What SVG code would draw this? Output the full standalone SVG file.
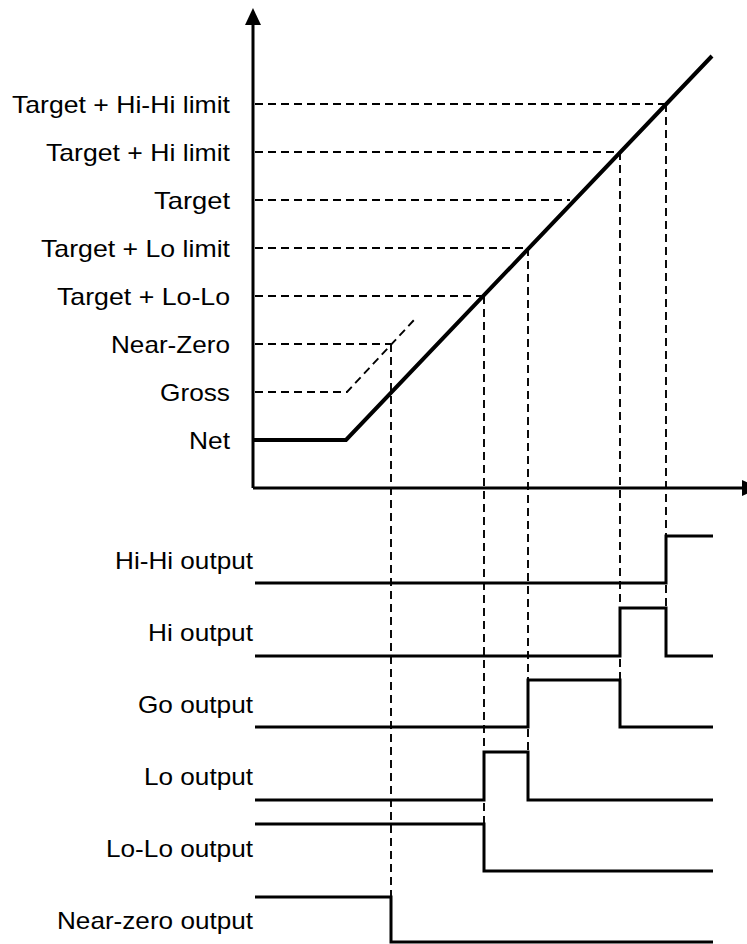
<svg xmlns="http://www.w3.org/2000/svg" width="747" height="944" viewBox="0 0 747 944">
<style>
.lbl{font-family:"Liberation Sans",Arial,sans-serif;font-size:24px;fill:#000;text-anchor:end}
.dash{stroke:#000;stroke-width:1.9;stroke-dasharray:8 5;fill:none}
.sig{stroke:#000;stroke-width:3;fill:none;stroke-linejoin:miter}
.axis{stroke:#000;stroke-width:3;fill:none}
</style>
<rect width="747" height="944" fill="#fff"/>
<g id="connectors">
  <g id="dashed-levels">
    <line class="dash" x1="255" y1="104" x2="666" y2="104"/>
    <line class="dash" x1="255" y1="152" x2="620" y2="152"/>
    <line class="dash" x1="255" y1="200" x2="570" y2="200"/>
    <line class="dash" x1="255" y1="248" x2="528" y2="248"/>
    <line class="dash" x1="255" y1="296" x2="484" y2="296"/>
    <line class="dash" x1="255" y1="344" x2="391" y2="344"/>
    <polyline class="dash" points="255,392 347,392 414,320"/>
  </g>
  <g id="dashed-verticals">
    <line class="dash" x1="391" y1="344" x2="391" y2="942"/>
    <line class="dash" x1="484" y1="296" x2="484" y2="871"/>
    <line class="dash" x1="528" y1="248" x2="528" y2="800"/>
    <line class="dash" x1="620" y1="152" x2="620" y2="727"/>
    <line class="dash" x1="666" y1="104" x2="666" y2="656"/>
  </g>
  <g id="axes">
    <line class="axis" x1="253" y1="22" x2="253" y2="488"/>
    <polygon points="253,8 245,25 261,25" fill="#000"/>
    <line class="axis" x1="253" y1="488" x2="745" y2="488"/>
    <polygon points="759,488 742,480 742,496" fill="#000"/>
  </g>
  <polyline id="weight-curve" points="253,440 346,440 712,56" stroke="#000" stroke-width="4" fill="none" stroke-linejoin="miter"/>
</g>
<g id="level-labels">
  <text class="lbl" x="230" y="113" textLength="218" lengthAdjust="spacingAndGlyphs">Target + Hi-Hi limit</text>
  <text class="lbl" x="230" y="161" textLength="184" lengthAdjust="spacingAndGlyphs">Target + Hi limit</text>
  <text class="lbl" x="230" y="209" textLength="76" lengthAdjust="spacingAndGlyphs">Target</text>
  <text class="lbl" x="230" y="257" textLength="189" lengthAdjust="spacingAndGlyphs">Target + Lo limit</text>
  <text class="lbl" x="230" y="305" textLength="173" lengthAdjust="spacingAndGlyphs">Target + Lo-Lo</text>
  <text class="lbl" x="230" y="353" textLength="119" lengthAdjust="spacingAndGlyphs">Near-Zero</text>
  <text class="lbl" x="230" y="401" textLength="70" lengthAdjust="spacingAndGlyphs">Gross</text>
  <text class="lbl" x="230" y="449" textLength="41" lengthAdjust="spacingAndGlyphs">Net</text>
</g>
<g id="hihi-output">
  <text class="lbl" x="253" y="569" textLength="138" lengthAdjust="spacingAndGlyphs">Hi-Hi output</text>
  <polyline class="sig" points="255,583 666,583 666,536 713,536"/>
</g>
<g id="hi-output">
  <text class="lbl" x="253" y="641" textLength="105" lengthAdjust="spacingAndGlyphs">Hi output</text>
  <polyline class="sig" points="255,656 620,656 620,608 666,608 666,656 713,656"/>
</g>
<g id="go-output">
  <text class="lbl" x="253" y="713" textLength="115" lengthAdjust="spacingAndGlyphs">Go output</text>
  <polyline class="sig" points="255,727 528,727 528,680 620,680 620,727 713,727"/>
</g>
<g id="lo-output">
  <text class="lbl" x="253" y="785" textLength="109" lengthAdjust="spacingAndGlyphs">Lo output</text>
  <polyline class="sig" points="255,800 484,800 484,752 528,752 528,800 713,800"/>
</g>
<g id="lolo-output">
  <text class="lbl" x="253" y="857" textLength="147" lengthAdjust="spacingAndGlyphs">Lo-Lo output</text>
  <polyline class="sig" points="255,824 484,824 484,871 713,871"/>
</g>
<g id="nearzero-output">
  <text class="lbl" x="253" y="929" textLength="196" lengthAdjust="spacingAndGlyphs">Near-zero output</text>
  <polyline class="sig" points="255,897 391,897 391,942 713,942"/>
</g>
</svg>
